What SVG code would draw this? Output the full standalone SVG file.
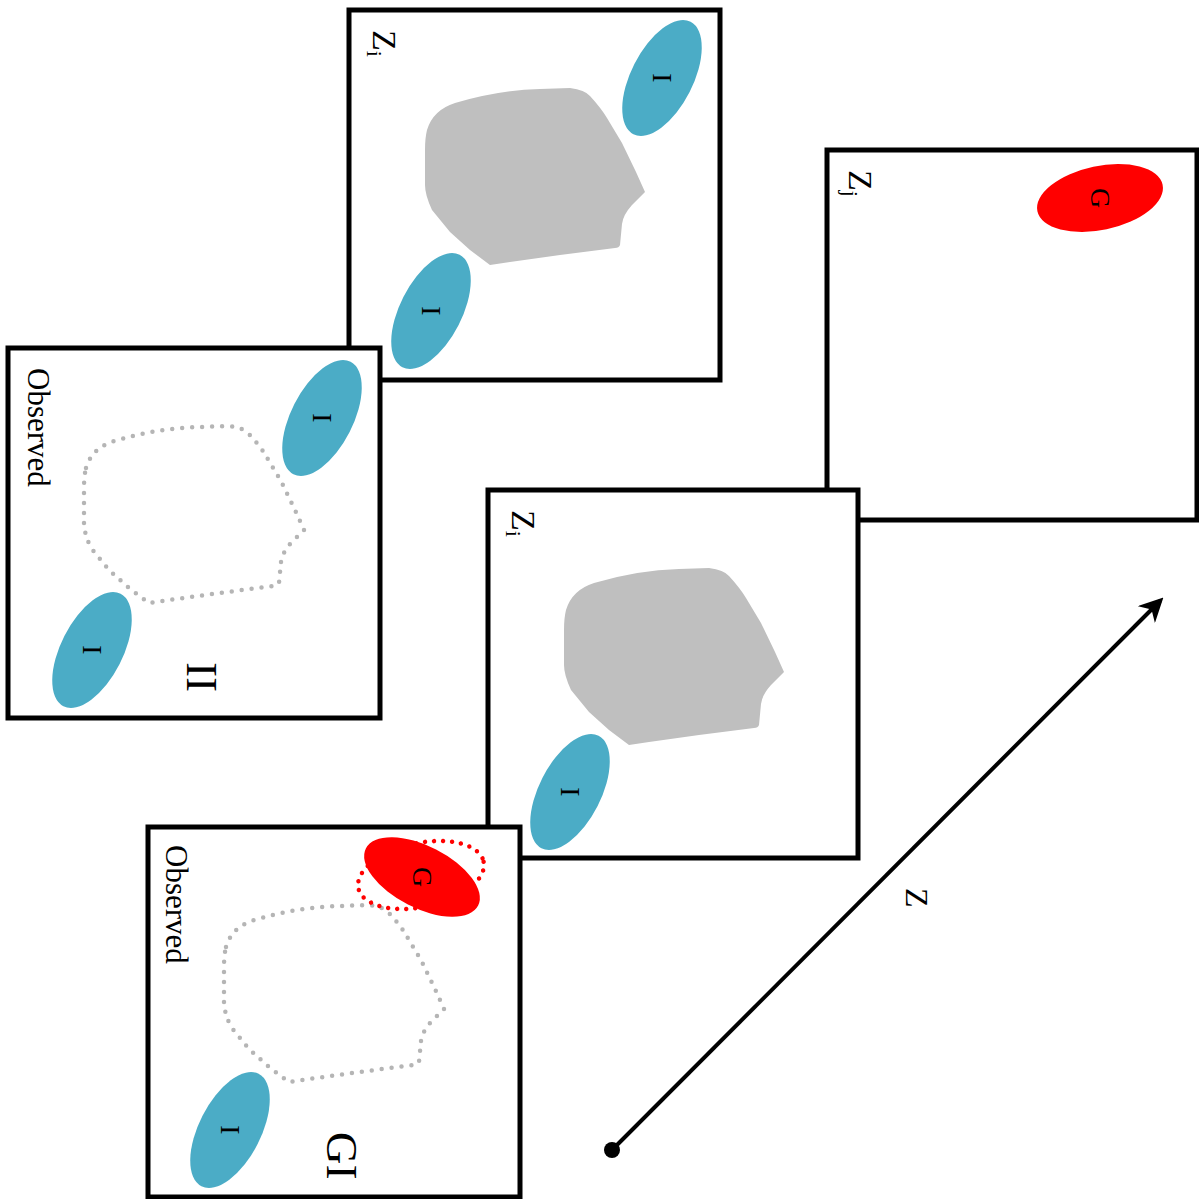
<svg xmlns="http://www.w3.org/2000/svg" width="1199" height="1199" viewBox="0 0 1199 1199">
<style>
.frame{fill:#fff;stroke:#000;stroke-width:5}
.blob{fill:#bfbfbf}
.dblob{fill:none;stroke:#b5b5b5;stroke-width:4.5;stroke-dasharray:0 10;stroke-linecap:round;stroke-linejoin:round}
.ei{fill:#4bacc6}
.eg{fill:#ff0000}
.egd{fill:none;stroke:#ff0000;stroke-width:4.5;stroke-dasharray:0 9;stroke-linecap:round}
text{font-family:"Liberation Serif","DejaVu Serif",serif;fill:#000}
.lbl{font-size:28px;text-anchor:middle;dominant-baseline:central}
.z{font-size:34px}
.obs{font-size:31px}
.big{font-size:45px}
</style>
<defs>
<path id="blob" d="M78,120 Q84,100 106,93 Q150,80 191,79 L221,78 Q236,80 241,86 Q252,98 258,108 L273,133 L287,162 L296,182 L283,195 Q274,205 273,214 L271,235 Q270,238 266,238 L211,245 L161,252 L141,255 L121,240 L101,222 L83,200 Q76,185 76,175 L76,140 Q76,128 78,120 Z"/>
<marker id="ah" viewBox="0 0 10 10" refX="8" refY="5" markerWidth="6" markerHeight="6" orient="auto" markerUnits="strokeWidth">
<path d="M0,0 L10,5 L0,10 L3,5 Z" fill="#000"/>
</marker>
</defs>

<g id="frame-top" transform="translate(349,10)">
<rect class="frame" x="0" y="0" width="371" height="370"/>
<use href="#blob" class="blob"/>
<ellipse class="ei" cx="313" cy="68" rx="31" ry="63" transform="rotate(27 313 68)"/>
<ellipse class="ei" cx="82" cy="301" rx="31" ry="63" transform="rotate(27 82 301)"/>
<text class="lbl" transform="translate(313,68) rotate(90)">I</text>
<text class="lbl" transform="translate(82,301) rotate(90)">I</text>
<text class="z" transform="translate(24,20) rotate(90)">Z<tspan font-size="22" dy="6">i</tspan></text>
</g>

<g id="frame-left" transform="translate(8,348)">
<rect class="frame" x="0" y="0" width="372" height="370"/>
<use href="#blob" class="dblob"/>
<ellipse class="ei" cx="314" cy="70" rx="31" ry="63" transform="rotate(27 314 70)"/>
<ellipse class="ei" cx="84" cy="302" rx="31" ry="63" transform="rotate(27 84 302)"/>
<text class="lbl" transform="translate(314,70) rotate(90)">I</text>
<text class="lbl" transform="translate(84,302) rotate(90)">I</text>
<text class="obs" transform="translate(20,20) rotate(90)">Observed</text>
<text class="big" transform="translate(179,314) rotate(90)">II</text>
</g>

<g id="frame-right" transform="translate(827,150)">
<rect class="frame" x="0" y="0" width="370" height="370"/>
<ellipse class="eg" cx="273" cy="48" rx="64" ry="32" transform="rotate(-12 273 48)"/>
<text class="lbl" transform="translate(273,48) rotate(90)">G</text>
<text class="z" transform="translate(22,20) rotate(90)">Z<tspan font-size="22" dy="6">j</tspan></text>
</g>

<g id="frame-middle" transform="translate(488,490)">
<rect class="frame" x="0" y="0" width="370" height="368"/>
<use href="#blob" class="blob"/>
<ellipse class="ei" cx="82" cy="302" rx="31" ry="63" transform="rotate(27 82 302)"/>
<text class="lbl" transform="translate(82,302) rotate(90)">I</text>
<text class="z" transform="translate(24,20) rotate(90)">Z<tspan font-size="22" dy="6">i</tspan></text>
</g>

<g id="frame-bottom" transform="translate(148,827)">
<rect class="frame" x="0" y="0" width="372" height="370"/>
<use href="#blob" class="dblob"/>
<ellipse class="eg" cx="274" cy="50" rx="63" ry="31" transform="rotate(27 274 50)"/>
<ellipse class="egd" cx="273" cy="48" rx="64" ry="32" transform="rotate(-12 273 48)"/>
<text class="lbl" transform="translate(274,50) rotate(90)">G</text>
<ellipse class="ei" cx="82" cy="303" rx="31" ry="63" transform="rotate(27 82 303)"/>
<text class="lbl" transform="translate(82,303) rotate(90)">I</text>
<text class="obs" transform="translate(18,18) rotate(90)">Observed</text>
<text class="big" transform="translate(179,305) rotate(90)">GI</text>
</g>

<g id="connectors">
<circle cx="612" cy="1150" r="8" fill="#000"/>
<line x1="612" y1="1150" x2="1160" y2="601" stroke="#000" stroke-width="4" marker-end="url(#ah)"/>
<text id="z-axis-label" style="font-size:32px" transform="translate(906,888) rotate(90)">Z</text>
</g>
</svg>
